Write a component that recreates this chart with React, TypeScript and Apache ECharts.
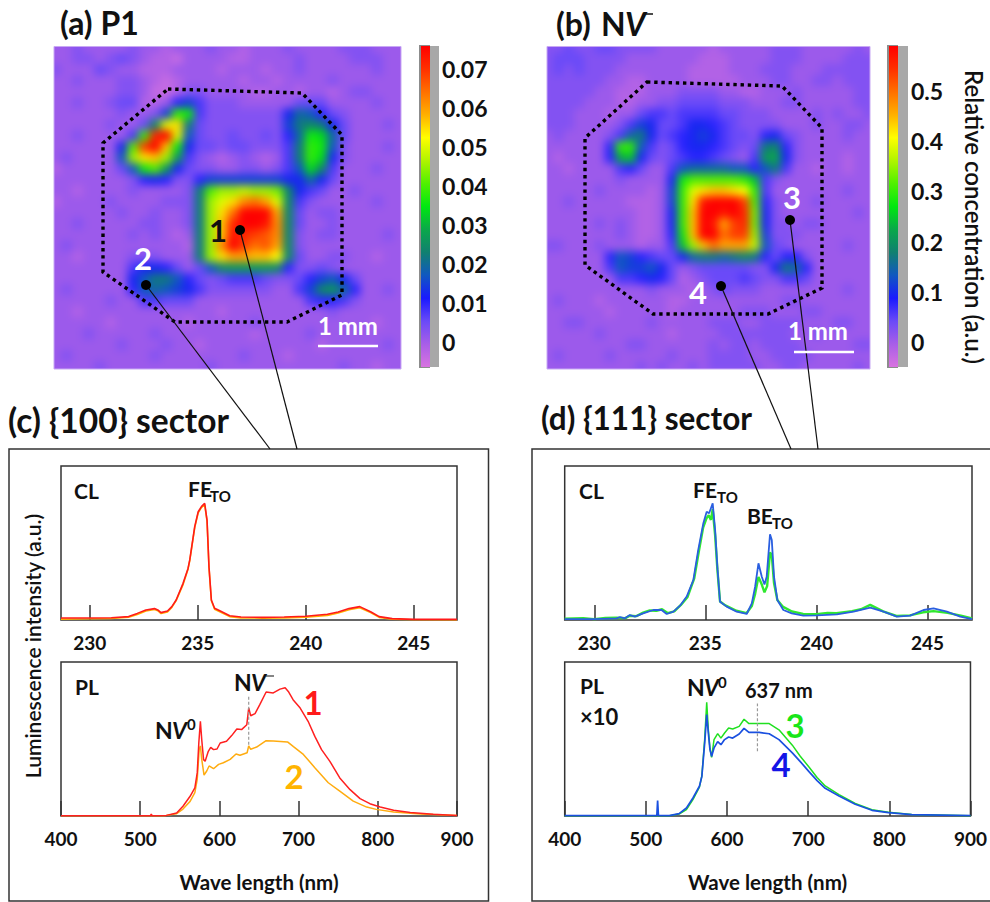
import React, { useEffect, useRef } from "react";
import * as echarts from "echarts";

const COLOR_SCALE = ["#d873e0","#a85ee8","#6a4af8","#1a1aff","#1058c0","#108070","#0aa84a","#00e810","#50f000","#b0f400","#ffff00","#ffb000","#ff7000","#ff3000","#ff0000"];

const P1_RANGE = [-0.0064, 0.0759];
const NV_RANGE = [-0.05, 0.59];

const P1_LEVELS = [
"3343 3334 3323 3343 3233 3433 3344 4333",
"3344 3454 3221 3333 2233 3343 3334 4433",
"4333 5433 2223 3332 3332 3343 3333 3433",
"3343 3344 3212 3333 3233 2333 3433 3333",
"3333 3344 3112 4433 3322 3323 3234 4333",
"3343 3455 2237 9644 4333 3355 5333 3433",
"3333 3343 349j i644 4444 48ba 7543 3333",
"3333 3433 5doq c544 4444 49cd c853 3343",
"3343 3336 jxzo a544 5445 47bi hb53 3333",
"3333 338k wzri 8554 5544 46cj ia43 3343",
"3433 33am qrme 6432 3432 36cj h843 3333",
"2333 335a ike8 5443 3443 46ah d633 3433",
"3333 3334 7874 4799 9999 988b 8533 3333",
"3323 3334 3333 4ckm mnmm ld86 5334 3333",
"2333 3433 3344 4cmo qtus od64 3333 3433",
"3333 3343 3433 4cmq uzzz sd53 4433 3333",
"3343 3333 4433 4cmr xzzy td53 3433 3333",
"3333 3334 3432 3cmr yxwv td43 4433 3343",
"3433 3333 3333 2cmt zwuv sd43 3333 3333",
"3323 3334 4433 3cmq ssrr pd53 3443 3233",
"3333 3336 8875 35ad eeee d744 5433 3333",
"3333 3338 acca 7545 6665 4457 9a85 3333",
"3433 3337 aba9 8644 4444 3369 deb7 3343",
"3333 3433 6655 5333 3333 3336 7764 3333",
"3323 3333 3333 3332 3333 3333 3433 3333",
"3333 3233 3333 2333 3343 3333 3333 3233",
"3334 3333 3433 3333 3323 3334 3333 3333",
"3333 3343 3343 3233 3333 3333 2333 3343",
"3433 3333 3433 3333 3433 3233 3333 3333",
"3333 4333 3333 3343 3333 3333 3343 3233",
];

const NV_LEVELS = [
"4454 4554 4443 3333 2333 3344 4333 3343",
"4555 4444 3333 3332 2233 3344 4333 3444",
"4545 4443 3333 3322 2233 3444 3334 4444",
"4444 4433 2233 3322 2223 3344 3344 3444",
"4444 4332 2233 3444 4332 2333 4333 3344",
"4444 3332 2334 4555 5444 3334 4333 3344",
"4443 3323 3566 5666 6554 4433 3343 4334",
"4443 3334 6985 5688 7654 4443 3343 3443",
"3433 3346 bc85 6789 8655 4785 4333 3433",
"3333 337j ja64 5788 7654 5cd7 4333 3333",
"3233 337f g854 5677 6543 6ef8 4333 3233",
"3323 3336 7533 6abb bbaa 7ac6 3323 3233",
"3333 3334 3333 8ikk kkkj g643 3333 3333",
"3333 3433 3323 9joq rrqp j633 3333 3433",
"3343 3333 2223 9jqy zzzw k743 3343 3333",
"3333 3333 3223 8jrz zyzx l843 3333 3343",
"3333 3434 3223 8jrz yswx l844 3443 3333",
"3333 3334 3223 7irz zuww m944 4333 3333",
"4433 3433 3233 6gmr usss na54 3333 3433",
"3333 337a 9765 58bc cbcd c757 7433 3333",
"3333 336a 99a8 5345 5555 448c b733 3333",
"3333 3336 6787 5234 5556 5446 6533 3333",
"3333 3333 3343 3323 4544 4333 3333 3433",
"3433 3233 3333 2233 3333 3334 4333 3333",
"3333 3323 3333 2333 3334 4433 3443 3333",
"3344 3333 3343 3333 4443 3444 4333 4433",
"3333 3433 3333 2333 3444 4444 3343 3333",
"3333 3333 4433 3333 4344 3444 4333 3344",
"3433 3343 3333 4333 4444 3344 4433 3333",
"3333 3333 3434 3343 4444 4334 4333 3343",
];

const CL_1 = [[228.67,1.3],[230,1.3],[231,1.5],[231.8,2.2],[232.2,4.3],[232.6,6.5],[233,7.4],[233.15,6.5],[233.3,4.8],[233.6,5.8],[233.8,8.7],[234,13],[234.32,23.8],[234.55,33.5],[234.63,39],[234.86,60.6],[235.02,70.3],[235.17,73.6],[235.32,75.8],[235.43,64.9],[235.52,34.6],[235.63,13],[235.78,7.6],[236.02,6],[236.48,2.8],[237,1.9],[238,1.7],[239,1.9],[240,2.4],[241,3.7],[241.5,5.2],[242,7.4],[242.5,8.7],[243,5.4],[243.4,2.2],[244,0.9],[245,0.4],[247,0.4]];
const CL_2 = [[228.67,0.6],[230,0.8],[231,1],[231.8,1.8],[232.2,3.6],[232.6,5.8],[233,6.8],[233.15,6],[233.3,4.2],[233.6,5.2],[233.8,8.2],[234,12.6],[234.32,23],[234.55,33],[234.63,38.5],[234.86,60],[235.02,69.6],[235.17,73],[235.32,75],[235.43,64],[235.52,34],[235.63,12.5],[235.78,7],[236.02,5.4],[236.48,2.2],[237,1.4],[238,1.2],[239,1.4],[240,1.8],[241,3],[241.5,4.5],[242,6.6],[242.5,7.9],[243,4.8],[243.4,1.7],[244,0.5],[245,0.2],[247,0.1]];
const CL_3 = [[228.67,0.8],[229.5,1.2],[230,0.6],[230.5,1.3],[231,1.5],[231.4,1.2],[231.6,2.8],[231.9,2.5],[232.2,4.8],[232.5,6.2],[232.8,6],[233.05,7],[233.3,4.5],[233.6,5.6],[233.9,9.8],[234.2,15],[234.5,27],[234.7,44],[234.9,60],[235.05,66],[235.15,68],[235.25,65],[235.33,72],[235.44,55],[235.54,33],[235.66,12],[235.9,9.5],[236.4,6],[236.86,4.5],[237.09,9],[237.24,17],[237.39,28],[237.54,23],[237.66,18],[237.78,22],[237.91,44],[237.99,42],[238.09,24],[238.24,13],[238.5,8.5],[238.9,5.5],[239.4,4],[240,3.8],[240.5,4.6],[240.9,4.4],[241.6,5.8],[242,7],[242.42,9.8],[243,5.6],[243.6,2.6],[244.2,3],[244.8,5],[245.27,5.8],[245.9,4.6],[246.5,2.8],[247,1]];
const CL_4 = [[228.67,0.6],[230,0.6],[231,1.1],[231.16,1.9],[231.38,1.1],[231.6,3.2],[231.83,2.2],[232.2,4.3],[232.66,6.5],[233.03,6.5],[233.26,3.9],[233.56,5.4],[233.86,9.3],[234.16,15.2],[234.46,26],[234.68,45.5],[234.91,62.8],[235.06,70.3],[235.17,69.3],[235.33,75.8],[235.44,58.4],[235.54,34.6],[235.66,11.9],[235.96,8.7],[236.41,5.4],[236.86,3.9],[237.09,10.8],[237.24,21.6],[237.39,36.8],[237.54,28.1],[237.66,23.1],[237.76,28.1],[237.91,55.6],[237.99,51.9],[238.09,28.1],[238.24,13],[238.51,6.5],[238.89,4.3],[239.41,2.8],[240.02,3],[240.92,3.7],[241.67,5.4],[242.42,8],[243.02,5.4],[243.62,2.2],[244.22,2.8],[244.82,6.5],[245.27,7.6],[245.87,5.4],[246.47,2.2],[247,0.6]];

const PL_1 = [[400,0.2],[513,0.2],[514,1.3],[515,0.2],[533,0.4],[546,1.9],[554,6.3],[563,12.8],[569,18.2],[572,28],[574,47.4],[576,61.5],[577.7,49.6],[580,36.6],[582,35.5],[586,42],[589,44.6],[592.6,43.1],[597,43.5],[601,47.4],[609,48.5],[615.5,52.2],[622,56.5],[628,56.1],[634.6,59.3],[637,70.1],[639.5,65.1],[645,66.5],[651,72.3],[659,80.5],[668,79.9],[676.5,82.4],[683,83.3],[687,80.9],[693,75.5],[702,70.1],[712,61.5],[720.5,51.7],[729,43.1],[739.5,35.5],[752,24.7],[765,17.1],[777.6,11.3],[790,8],[803,5.8],[820,3.7],[841,2.2],[870,1.1],[900,0.4]];
const PL_2 = [[400,0.1],[530,0.2],[533,0.4],[546,1.5],[554,4.5],[563,9.5],[569,15.2],[572,23.8],[574.5,43.3],[576,45.5],[577.7,36.8],[580.6,26.6],[584,29.2],[587,32.5],[592.6,30.7],[599,33.5],[605,34.6],[613.6,36.8],[621,40.3],[626,39.4],[635,41.1],[637,45.5],[639.5,43.3],[647,44.8],[659,48.9],[668,48.7],[686,48.1],[693.5,45],[706,40],[720.5,31.4],[737.5,21.6],[752,16.2],[769,9.7],[786,5.8],[798,4.3],[820,2.6],[854,1.3],[900,0.4]];
const PL_3 = [[400,0.2],[529,0.2],[541,1.3],[550,4.1],[558,10.6],[566,18.8],[569,26],[572.5,50],[575,73.8],[577,56],[579,44],[581,38],[584,49.6],[588.5,53.5],[592.5,50.6],[597,53.9],[602,57.1],[607,56.5],[615,58.2],[621,62.8],[627,60],[639.6,60],[652,60],[664,56],[680.5,46],[690,39],[701,31.8],[711,25],[721,19.5],[738,13.9],[758,8.2],[778.6,4.1],[799,2.4],[827.6,1],[900,0.2]];
const PL_4 = [[400,0.2],[513.5,0.2],[514.5,10],[515.5,0.2],[529,0.2],[541,1.5],[550,5.2],[558,11.7],[566,19.3],[569,25.7],[572.5,47.4],[575,65.8],[577,53.9],[579,43.1],[581,38.7],[584,44.2],[588.5,48.3],[592.5,46.3],[597,49.6],[602,51.3],[607,50.6],[615,53.2],[621,56.9],[627,54.3],[639.6,54.3],[652,53.4],[664,49.6],[680.5,41],[690,35.5],[701,28.8],[711,23],[721,18],[738,13],[758,7.6],[778.6,3.7],[799,2.2],[827.6,0.9],[900,0.2]];
const MARK_C = [[637,46.3],[637,78.8]];
const MARK_D = [[637.5,42],[637.5,73]];

const FONT = "Lato";

function cells(rows: string[], range: number[]) {
  const out: number[][] = [];
  rows.forEach((row, r) => {
    row.replace(/ /g, "").split("").forEach((ch, c) => {
      out.push([c, r, range[0] + (parseInt(ch, 36) / 35) * (range[1] - range[0])]);
    });
  });
  return out;
}

const idx = (n: number) => Array.from({ length: n }, (_, i) => i);

function txt(x: number, y: number, text: string, size: number, o: any = {}) {
  return {
    type: "text", x, y, rotation: o.rotation || 0, z: 100,
    style: { text, fontFamily: FONT, fontSize: size, fontWeight: o.weight ?? 700, fontStyle: o.italic ? "italic" : "normal", fill: o.fill || "#111", align: o.align || "left", verticalAlign: "middle" },
  };
}
const ln = (x1: number, y1: number, x2: number, y2: number, stroke = "#111", lineWidth = 1.2, lineDash?: number[]) => ({
  type: "line", z: 90, shape: { x1, y1, x2, y2 }, style: { stroke, lineWidth, lineDash },
});
const dot = (cx: number, cy: number) => ({ type: "circle", z: 95, shape: { cx, cy, r: 5 }, style: { fill: "#000" } });
const poly = (pts: number[][]) => ({ type: "polygon", z: 90, shape: { points: pts }, style: { fill: "none", stroke: "#000", lineWidth: 3.4, lineDash: [3.4, 3.8] } });

const OCT_A = [[168,89],[302,93],[342,135],[342,295],[287,322],[175,322],[103,272],[103,143]];
const OCT_B = [[647,82],[782,86],[822,128],[822,288],[768,314],[653,314],[585,265],[585,138]];

export default function App() {
  const heatRef = useRef<HTMLDivElement>(null);
  const mainRef = useRef<HTMLDivElement>(null);

  useEffect(() => {
    const heat = echarts.init(heatRef.current!, null, { renderer: "svg" });
    const axisOff = { show: false };
    heat.setOption({
      animation: false,
      backgroundColor: "#9b5cf0",
      grid: [
        { left: 50, top: 42.5, width: 355, height: 330 },
        { left: 543, top: 42.5, width: 331, height: 330 },
      ],
      xAxis: [0, 1].map((g) => ({ type: "category", gridIndex: g, data: idx(32), ...axisOff })),
      yAxis: [0, 1].map((g) => ({ type: "category", gridIndex: g, data: idx(30), inverse: true, ...axisOff })),
      visualMap: [
        { show: false, type: "continuous", min: P1_RANGE[0], max: P1_RANGE[1], seriesIndex: 0, dimension: 2, inRange: { color: COLOR_SCALE } },
        { show: false, type: "continuous", min: NV_RANGE[0], max: NV_RANGE[1], seriesIndex: 1, dimension: 2, inRange: { color: COLOR_SCALE } },
      ],
      series: [
        { type: "heatmap", xAxisIndex: 0, yAxisIndex: 0, data: cells(P1_LEVELS, P1_RANGE), progressive: 0 },
        { type: "heatmap", xAxisIndex: 1, yAxisIndex: 1, data: cells(NV_LEVELS, NV_RANGE), progressive: 0 },
      ],
    });

    const main = echarts.init(mainRef.current!, null, { renderer: "svg" });
    const plots = [
      { left: 61, top: 466, width: 396, height: 154 },
      { left: 61, top: 662, width: 396, height: 154 },
      { left: 564.7, top: 466, width: 407.3, height: 154 },
      { left: 564.7, top: 662, width: 407.3, height: 154 },
    ];
    const frame = { show: true, borderColor: "#333", borderWidth: 1.5, backgroundColor: "transparent" };
    const tick = { show: true, inside: true, length: 15, lineStyle: { color: "#333", width: 1.5 } };
    const xLabel = { show: true, color: "#111", fontFamily: FONT, fontWeight: 700, fontSize: 19, margin: 13 };
    const clAxis = (g: number) => ({
      type: "value", gridIndex: g, min: 228.67, max: 247, splitNumber: 4, splitLine: { show: false },
      axisLine: { show: false }, axisTick: tick,
      axisLabel: { ...xLabel, showMinLabel: false, showMaxLabel: false },
    });
    const plAxis = (g: number) => ({
      type: "value", gridIndex: g, min: 400, max: 900, interval: 100, splitLine: { show: false },
      axisLine: { show: false }, axisTick: tick, axisLabel: { ...xLabel, hideOverlap: false },
      name: "Wave length (nm)", nameLocation: "middle", nameGap: 55,
      nameTextStyle: { color: "#111", fontFamily: FONT, fontWeight: 700, fontSize: 20.5 },
    });
    const yHidden = (g: number) => ({ type: "value", gridIndex: g, min: 0, max: 100, show: false });
    const barAxis = (g: number, range: number[], split: number, fmt: (v: number) => string) => ({
      type: "value", gridIndex: g, position: "right", min: range[0], max: range[1], splitNumber: split,
      splitLine: { show: false },
      axisLine: { show: false },
      axisTick: { show: true, inside: true, length: 7, lineStyle: { color: "#555", width: 1 } },
      minorTick: { show: true, splitNumber: 5, length: 4, lineStyle: { color: "#666", width: 1 } },
      axisLabel: { show: true, inside: false, showMinLabel: false, showMaxLabel: false, margin: 3, color: "#111", fontFamily: FONT, fontWeight: 700, fontSize: 23, formatter: fmt },
    });
    const spec = (i: number, data: number[][], color: string, width: number, dash?: boolean) => ({
      type: "line", xAxisIndex: i, yAxisIndex: i, data, showSymbol: false, symbol: "none", smooth: false,
      lineStyle: { color, width, type: dash ? [3, 2] : "solid" }, silent: true,
    });
    const gradient = () => new echarts.graphic.LinearGradient(0, 1, 0, 0,
      COLOR_SCALE.map((color, i) => ({ offset: i / (COLOR_SCALE.length - 1), color })));

    main.setOption({
      animation: false,
      backgroundColor: "transparent",
      grid: [
        ...plots.map((p) => ({ ...p, ...frame })),
        { left: 430, top: 46, width: 9, height: 321, show: true, borderWidth: 0, backgroundColor: "#a8a8a8" },
        { left: 898, top: 46, width: 10, height: 321, show: true, borderWidth: 0, backgroundColor: "#a8a8a8" },
      ],
      xAxis: [
        clAxis(0), plAxis(1), clAxis(2), plAxis(3),
        { type: "value", gridIndex: 4, show: false }, { type: "value", gridIndex: 5, show: false },
      ],
      yAxis: [
        yHidden(0), yHidden(1), yHidden(2), yHidden(3),
        barAxis(4, P1_RANGE, 8, (v: number) => (Math.abs(v) < 1e-9 ? "0" : v.toFixed(2))),
        barAxis(5, NV_RANGE, 6, (v: number) => (Math.abs(v) < 1e-9 ? "0" : v.toFixed(1))),
      ],
      series: [
        spec(0, CL_2, "#ffb000", 1.6),
        spec(0, CL_1, "#ff1a1a", 1.6),
        spec(1, PL_2, "#ffac10", 1.5),
        spec(1, PL_1, "#ff2020", 1.5),
        spec(1, MARK_C, "#999", 1.2, true),
        spec(2, CL_3, "#30e830", 2.4),
        spec(2, CL_4, "#2a5fe0", 1.8),
        spec(3, PL_3, "#20e020", 1.5),
        spec(3, PL_4, "#1a50e0", 1.7),
        spec(3, MARK_D, "#999", 1.2, true),
      ],
      graphic: { elements: [
        // panels
        { type: "rect", z: 1, shape: { x: 9, y: 449, width: 479.5, height: 452 }, style: { fill: "none", stroke: "#333", lineWidth: 1.5 } },
        { type: "rect", z: 1, shape: { x: 532, y: 449, width: 470, height: 452 }, style: { fill: "none", stroke: "#333", lineWidth: 1.5 } },
        // map edges
        { type: "rect", z: 1, shape: { x: 54, y: 46.5, width: 347, height: 322.5 }, style: { fill: "none", stroke: "#c8a8f4", lineWidth: 1 } },
        { type: "rect", z: 1, shape: { x: 547, y: 46.5, width: 323, height: 322.5 }, style: { fill: "none", stroke: "#c8a8f4", lineWidth: 1 } },
        // colour bars
        { type: "rect", z: 1, shape: { x: 419, y: 45, width: 11, height: 323 }, style: { fill: "#8c8c8c" } },
        { type: "rect", z: 2, shape: { x: 421, y: 46, width: 9, height: 321 }, style: { fill: gradient() } },
        { type: "rect", z: 1, shape: { x: 887, y: 45, width: 11, height: 323 }, style: { fill: "#8c8c8c" } },
        { type: "rect", z: 2, shape: { x: 889, y: 46, width: 9, height: 321 }, style: { fill: gradient() } },
        // octagons, callouts
        poly(OCT_A), poly(OCT_B),
        ln(240, 230, 297, 449), ln(146, 285, 270, 449), ln(790, 220, 818, 449), ln(721, 286, 791, 449),
        dot(240, 230), dot(146, 285), dot(790, 220), dot(721, 286),
        // titles
        txt(60, 22, "(a) P1", 32),
        txt(556, 23, "(b)", 32), txt(601, 23, "N", 32), txt(625, 23, "V", 32, { italic: true }), ln(643, 14, 653, 14, "#111", 1.5),
        txt(8, 420, "(c) {100} sector", 33.5),
        txt(541, 418, "(d) {111} sector", 31.5),
        // map labels
        txt(209, 230, "1", 31), txt(143, 258, "2", 31, { fill: "#fff", align: "center" }),
        txt(792, 197, "3", 31, { fill: "#fff", align: "center" }), txt(698, 292, "4", 31, { fill: "#fff", align: "center" }),
        txt(318, 325, "1 mm", 24, { fill: "#fff" }), ln(318, 346, 378, 346, "#fff", 2.5),
        txt(788, 330, "1 mm", 24, { fill: "#fff" }), ln(794, 352, 854, 352, "#fff", 2.5),
        // side labels
        txt(974, 217, "Relative concentration (a.u.)", 24, { rotation: -Math.PI / 2, align: "center", weight: 600 }),
        txt(32, 646, "Luminescence intensity (a.u.)", 21, { rotation: Math.PI / 2, align: "center", weight: 600 }),
        // panel c annotations
        txt(74, 490, "CL", 21), txt(188, 488, "FE", 21), txt(210, 496, "TO", 15),
        txt(75, 686, "PL", 21),
        txt(234, 682, "N", 23), txt(251, 682, "V", 23, { italic: true }), ln(266, 676, 274, 676, "#333", 1.2),
        txt(155, 730, "N", 23), txt(172, 730, "V", 23, { italic: true }), txt(187, 724, "0", 15),
        txt(313, 702, "1", 33, { fill: "#ff1a1a", align: "center" }),
        txt(294, 776, "2", 33, { fill: "#ffb400", align: "center" }),
        // panel d annotations
        txt(579, 490, "CL", 21), txt(693, 489, "FE", 21), txt(717, 497, "TO", 15),
        txt(747, 515, "BE", 21), txt(772, 523, "TO", 15),
        txt(580, 685, "PL", 21), txt(580, 716, "×10", 22),
        txt(687, 687, "N", 23), txt(704, 687, "V", 23, { italic: true }), txt(718, 682, "0", 15),
        txt(745, 690, "637 nm", 20),
        txt(795, 725, "3", 33, { fill: "#19e619", align: "center" }),
        txt(781, 764, "4", 33, { fill: "#1414e6", align: "center" }),
      ] },
    });
    return () => { heat.dispose(); main.dispose(); };
  }, []);

  return (
    <div style={{ position: "absolute", left: 0, top: 0, width: 990, height: 902, background: "#fff", overflow: "hidden" }}>
      <div style={{ position: "absolute", left: 0, top: 0, width: 990, height: 902, clipPath: "path('M54 46.5H401V369H54Z M547 46.5H870V369H547Z')" }}>
        <div ref={heatRef} style={{ width: 990, height: 902, filter: "blur(4px)" }} />
      </div>
      <div ref={mainRef} style={{ position: "absolute", left: 0, top: 0, width: 990, height: 902 }} />
    </div>
  );
}
